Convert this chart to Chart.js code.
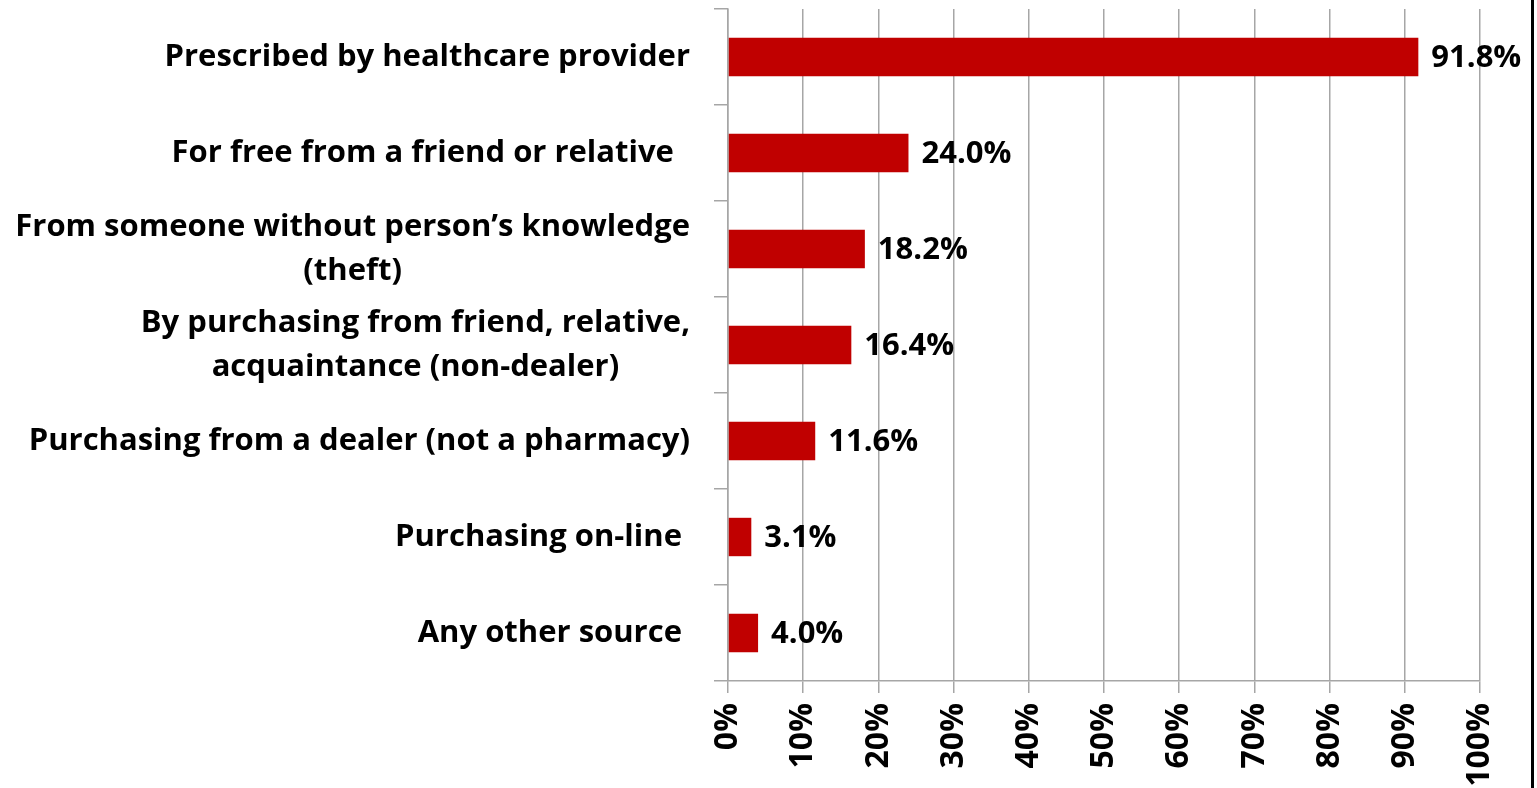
<!DOCTYPE html>
<html>
<head>
<meta charset="utf-8">
<script src="https://cdn.jsdelivr.net/npm/chart.js@4/dist/chart.umd.min.js"></script>
<style>
  html, body { margin: 0; padding: 0; background: #fff; }
  #wrap { position: relative; width: 1537px; height: 788px; }
</style>
</head>
<body>
<div id="wrap"><canvas id="c" width="1537" height="788"></canvas></div>
<script>
const categories = [
  ["Prescribed by healthcare provider"],
  ["For free from a friend or relative  "],
  ["From someone without person\u2019s knowledge", "(theft)"],
  ["By purchasing from friend, relative,", "acquaintance (non-dealer)"],
  ["Purchasing from a dealer (not a pharmacy)"],
  ["Purchasing on-line "],
  ["Any other source "]
];
const values = [91.8, 24.0, 18.2, 16.4, 11.6, 3.1, 4.0];
const valueLabels = ["91.8%", "24.0%", "18.2%", "16.4%", "11.6%", "3.1%", "4.0%"];
const xTicks = [0, 10, 20, 30, 40, 50, 60, 70, 80, 90, 100];

const FONT = "'Open Sans'";
const GRID = "#a6a6a6";

const labelPlugin = {
  id: 'labels',
  afterDraw(chart) {
    const ctx = chart.ctx;
    const y = chart.scales.y;
    const area = chart.chartArea;
    ctx.save();
    ctx.fillStyle = '#000';
    ctx.font = 'bold 31px ' + FONT;
    ctx.textBaseline = 'middle';
    ctx.textAlign = 'center';
    const right = area.left - 38;
    const lh = 44;
    categories.forEach((lines, i) => {
      const cy = y.getPixelForTick(i);
      const widest = Math.max(...lines.map(l => ctx.measureText(l).width));
      const cx = right - widest / 2;
      const start = cy - (lines.length - 1) * lh / 2;
      lines.forEach((l, j) => ctx.fillText(l, cx, start + j * lh));
    });
    // value labels
    ctx.font = 'bold 31px ' + FONT;
    ctx.textAlign = 'left';
    const meta = chart.getDatasetMeta(0);
    meta.data.forEach((bar, i) => {
      ctx.fillText(valueLabels[i], bar.x + 13, bar.y + 1);
    });
    // right border
    ctx.fillStyle = '#000';
    ctx.fillRect(1531, 0, 3, 788);
    ctx.restore();
  }
};

new Chart(document.getElementById('c'), {
  type: 'bar',
  data: {
    labels: categories,
    datasets: [{
      data: values,
      backgroundColor: '#C00000',
      borderWidth: 0,
      barPercentage: 0.4,
      categoryPercentage: 1.0
    }]
  },
  options: {
    indexAxis: 'y',
    responsive: false,
    animation: false,
    layout: { padding: { left: 0, right: 57, top: 9, bottom: 0 } },
    plugins: { legend: { display: false }, tooltip: { enabled: false } },
    scales: {
      x: {
        min: 0, max: 100,
        afterBuildTicks(scale) { scale.ticks = xTicks.map(v => ({ value: v })); },
        afterFit(scale) { scale.height = 107; },
        ticks: {
          callback: v => v + '%',
          maxRotation: 90, minRotation: 90,
          padding: 10,
          color: '#000',
          font: { family: FONT, size: 32, weight: 'bold' }
        },
        grid: { color: GRID, lineWidth: 1.5, tickLength: 12, drawTicks: true },
        border: { color: GRID, width: 1.5 }
      },
      y: {
        afterFit(scale) { scale.width = 728; },
        ticks: { display: false },
        grid: { drawOnChartArea: false, color: GRID, lineWidth: 1.5, tickLength: 14, offset: true },
        border: { color: GRID, width: 1.5 }
      }
    }
  },
  plugins: [labelPlugin]
});
</script>
</body>
</html>
